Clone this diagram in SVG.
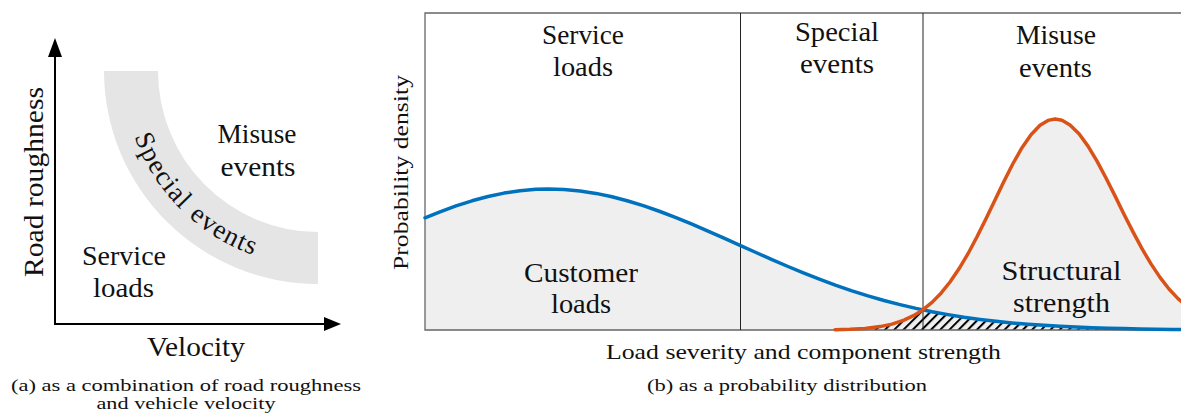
<svg xmlns="http://www.w3.org/2000/svg" width="1181" height="415" viewBox="0 0 1181 415" font-family="'Liberation Serif',serif">
<style>
text{font-family:"Liberation Serif","Times New Roman",serif;fill:#111}
.big{font-size:27px;text-anchor:middle}
.arc{font-size:27px;letter-spacing:1.3px;text-anchor:middle}
.ax{font-size:22px;text-anchor:middle}
.cap{font-size:17px;text-anchor:middle}
.axis{stroke:#000;stroke-width:2;fill:none}
.frame{stroke:#666;stroke-width:1.3;fill:none}
.div{stroke:#222;stroke-width:1;fill:none}
.under{fill:#efefef;stroke:none}
.blue{fill:none;stroke:#0072BD;stroke-width:3.5;stroke-linejoin:round;stroke-linecap:round}
.orange{fill:none;stroke:#D95319;stroke-width:3.5;stroke-linejoin:round;stroke-linecap:round}
</style>
<defs>
<pattern id="hatch" width="6.5" height="6.5" patternUnits="userSpaceOnUse" patternTransform="rotate(45)">
<rect x="0" y="0" width="2" height="6.5" fill="#000"/>
</pattern>
<path id="arcText" d="M123,71 A195,195 0 0 0 318,266"/>
</defs>

<g id="panel-a">
<g id="band">
<path d="M104,71 A214,213 0 0 0 318,284 L318,232 A160,161 0 0 1 158,71 Z" fill="#e5e5e5"/>
<text class="arc"><textPath href="#arcText" startOffset="36.3%">Special</textPath></text>
<text class="arc"><textPath href="#arcText" startOffset="66.3%">events</textPath></text>
</g>
<g id="axes-a">
<line class="axis" x1="55" y1="325" x2="55" y2="54"/>
<polygon points="55,38 48,57 62,57" fill="#000"/>
<line class="axis" x1="54" y1="324" x2="327" y2="324"/>
<polygon points="341,324 324,317 324,331" fill="#000"/>
</g>
<g id="misuse-a">
<text class="big" x="257" y="143" textLength="79" lengthAdjust="spacingAndGlyphs">Misuse</text>
<text class="big" x="258" y="176" textLength="75" lengthAdjust="spacingAndGlyphs">events</text>
</g>
<g id="service-a">
<text class="big" x="124" y="265" textLength="84" lengthAdjust="spacingAndGlyphs">Service</text>
<text class="big" x="123.5" y="297" textLength="61" lengthAdjust="spacingAndGlyphs">loads</text>
</g>
<text class="big" transform="translate(43,182) rotate(-90)" x="0" y="0" textLength="190" lengthAdjust="spacingAndGlyphs">Road roughness</text>
<text class="big" x="196" y="356" textLength="98" lengthAdjust="spacingAndGlyphs">Velocity</text>
<text class="cap" x="186" y="391" textLength="350" lengthAdjust="spacingAndGlyphs">(a) as a combination of road roughness</text>
<text class="cap" x="186" y="409" textLength="179" lengthAdjust="spacingAndGlyphs">and vehicle velocity</text>
</g>

<g id="panel-b">
<g id="fills">
<path class="under" d="M425,330 L425,217.8 440,211.8 456,205.9 472,200.8 488,196.5 504,193.1 520,190.7 536,189.3 548,189 564,189.5 580,191 596,193.4 612,196.8 628,201 644,205.9 660,211.5 676,217.6 692,224.2 708,231.1 724,238.2 740,245.4 756,252.5 772,259.6 788,266.5 804,273.1 820,279.4 836,285.3 852,290.8 868,295.9 884,300.5 900,304.6 916,308.4 932,311.7 948,314.6 964,317.2 980,319.4 996,321.3 1012,322.9 1028,324.2 1044,325.3 1060,326.3 1076,327 1092,327.7 1108,328.2 1124,328.6 1140,328.9 1156,329.2 1172,329.4 1181,329.5 1181,330 Z"/>
<path class="under" d="M835,330 L835,329.7 850,329.3 865,328.4 880,326.6 892,324.1 904,320.1 914,315.4 923,309.7 932,302.4 941,293.2 950,282 959,268.8 968,253.7 977,236.8 986,218.7 995,199.9 1004,181.2 1013,163.5 1022,147.7 1031,134.7 1040,125.3 1048,120.4 1055,119 1062,120.3 1070,124.9 1079,133.8 1088,146.1 1097,161.1 1106,178 1115,195.9 1124,214.2 1133,231.9 1142,248.7 1151,263.9 1160,277.4 1169,289 1178,298.6 1187,306.5 1187,330 Z"/>
<path id="overlap" fill="url(#hatch)" d="M872,330 L872,327.7 880,326.6 892,324.1 904,320.1 914,315.4 923,309.7 932,311.7 948,314.6 964,317.2 980,319.4 996,321.3 1012,322.9 1028,324.2 1044,325.3 1060,326.3 1076,327 1092,327.7 1108,328.2 1124,328.6 1140,328.9 1156,329.2 1181,329.5 1181,330 Z"/>
</g>
<g id="frame">
<path class="frame" d="M1190,13 L425,13 L425,330 L1190,330"/>
<line class="div" x1="740.5" y1="13" x2="740.5" y2="330"/>
<line class="div" x1="923" y1="13" x2="923" y2="330"/>
</g>
<g id="connectors">
<polyline id="customer-curve" class="blue" points="425,217.8 440,211.8 456,205.9 472,200.8 488,196.5 504,193.1 520,190.7 536,189.3 548,189 564,189.5 580,191 596,193.4 612,196.8 628,201 644,205.9 660,211.5 676,217.6 692,224.2 708,231.1 724,238.2 740,245.4 756,252.5 772,259.6 788,266.5 804,273.1 820,279.4 836,285.3 852,290.8 868,295.9 884,300.5 900,304.6 916,308.4 932,311.7 948,314.6 964,317.2 980,319.4 996,321.3 1012,322.9 1028,324.2 1044,325.3 1060,326.3 1076,327 1092,327.7 1108,328.2 1124,328.6 1140,328.9 1156,329.2 1172,329.4 1185,329.5"/>
<polyline id="strength-curve" class="orange" points="835,329.7 850,329.3 865,328.4 880,326.6 892,324.1 904,320.1 914,315.4 923,309.7 932,302.4 941,293.2 950,282 959,268.8 968,253.7 977,236.8 986,218.7 995,199.9 1004,181.2 1013,163.5 1022,147.7 1031,134.7 1040,125.3 1048,120.4 1055,119 1062,120.3 1070,124.9 1079,133.8 1088,146.1 1097,161.1 1106,178 1115,195.9 1124,214.2 1133,231.9 1142,248.7 1151,263.9 1160,277.4 1169,289 1178,298.6 1187,306.5"/>
</g>
<g id="service-b">
<text class="big" x="583" y="44" textLength="82" lengthAdjust="spacingAndGlyphs">Service</text>
<text class="big" x="583" y="76" textLength="60" lengthAdjust="spacingAndGlyphs">loads</text>
</g>
<g id="special-b">
<text class="big" x="837" y="41" textLength="84" lengthAdjust="spacingAndGlyphs">Special</text>
<text class="big" x="837" y="73" textLength="74" lengthAdjust="spacingAndGlyphs">events</text>
</g>
<g id="misuse-b">
<text class="big" x="1056" y="44" textLength="80" lengthAdjust="spacingAndGlyphs">Misuse</text>
<text class="big" x="1055.5" y="77" textLength="73" lengthAdjust="spacingAndGlyphs">events</text>
</g>
<g id="customer-b">
<text class="big" x="581" y="282" textLength="114" lengthAdjust="spacingAndGlyphs">Customer</text>
<text class="big" x="581" y="313" textLength="60" lengthAdjust="spacingAndGlyphs">loads</text>
</g>
<g id="strength-b">
<text class="big" x="1061.5" y="280" textLength="120" lengthAdjust="spacingAndGlyphs">Structural</text>
<text class="big" x="1061.5" y="312" textLength="97" lengthAdjust="spacingAndGlyphs">strength</text>
</g>
<text class="ax" transform="translate(407.5,172.5) rotate(-90)" x="0" y="0" textLength="195" lengthAdjust="spacingAndGlyphs">Probability density</text>
<text class="ax" x="803.5" y="358.5" textLength="395" lengthAdjust="spacingAndGlyphs">Load severity and component strength</text>
<text class="cap" x="787" y="391" textLength="280" lengthAdjust="spacingAndGlyphs">(b) as a probability distribution</text>
</g>
</svg>
